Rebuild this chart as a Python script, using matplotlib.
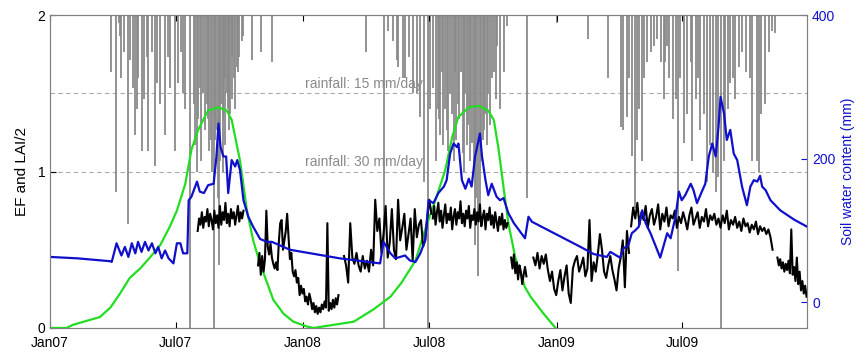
import numpy as np
import pandas as pd
import matplotlib
matplotlib.use('Agg')
import matplotlib.pyplot as plt
import matplotlib.dates as mdates

plt.rcParams['font.family'] = ['Liberation Sans', 'DejaVu Sans']

# days counted from 1 Jan 2007
t0 = pd.Timestamp('2007-01-01')

# soil water content (mm), right axis
swc_day = [0, 40, 87, 89, 96, 103, 108, 113, 118, 123, 127, 132, 137, 142, 147, 152, 156, 161, 166, 171,
           178, 183, 188, 192, 198, 200, 204, 212, 216, 222, 228, 236, 240, 243, 246, 250, 254, 257, 262, 267,
           270, 274, 279, 286, 293, 303, 313, 320, 346, 418, 476, 481, 491, 498, 505, 512, 519, 527, 534, 541,
           546, 553, 560, 568, 572, 577, 582, 587, 589, 594, 599, 604, 608, 613, 620, 623, 628, 632, 637, 644,
           649, 654, 661, 669, 685, 690, 695, 765, 784, 803, 808, 822, 827, 834, 839, 844, 849, 854, 859, 866,
           880, 885, 890, 895, 902, 907, 911, 916, 924, 928, 933, 940, 945, 950, 955, 960, 964, 967, 972, 976,
           981, 986, 991, 998, 1005, 1010, 1015, 1020, 1024, 1027, 1032, 1039, 1053, 1073, 1092]
swc_mm = [63, 61, 57, 56, 82, 65, 77, 63, 82, 68, 84, 70, 84, 72, 82, 68, 77, 61, 72, 61,
          54, 82, 82, 68, 68, 142, 147, 168, 154, 152, 163, 165, 203, 249, 216, 203, 203, 152, 198, 189,
          198, 184, 142, 119, 105, 88, 84, 84, 73, 61, 54, 84, 68, 61, 63, 65, 58, 56, 68, 86,
          142, 138, 152, 161, 170, 207, 221, 216, 221, 170, 158, 172, 161, 203, 235, 203, 170, 149, 165, 147,
          142, 145, 124, 110, 89, 119, 112, 77, 67, 63, 70, 62, 75, 79, 96, 100, 105, 128, 110, 96,
          62, 79, 96, 89, 119, 154, 142, 149, 165, 156, 138, 154, 165, 203, 221, 203, 244, 286, 263, 226,
          240, 207, 198, 161, 135, 161, 170, 168, 176, 161, 156, 142, 128, 115, 105]

# LAI/2, left axis
lai_day = [0, 24, 33, 72, 87, 101, 115, 130, 144, 159, 173, 183, 195, 204, 214, 228, 243, 255, 262, 274,
           284, 293, 303, 313, 322, 337, 351, 370, 380, 409, 438, 467, 491, 507, 527, 541, 556, 570, 580, 589,
           604, 618, 632, 640, 647, 654, 661, 671, 685, 693, 712, 729]
lai_half = [0, 0, 0.02, 0.07, 0.13, 0.22, 0.32, 0.38, 0.45, 0.53, 0.65, 0.75, 0.92, 1.14, 1.27, 1.39, 1.41, 1.39, 1.33, 1.07,
            0.75, 0.56, 0.41, 0.29, 0.18, 0.09, 0.04, 0.01, 0, 0.02, 0.04, 0.12, 0.2, 0.29, 0.43, 0.63, 0.82, 1.01, 1.22, 1.35,
            1.41, 1.42, 1.39, 1.33, 1.14, 0.9, 0.67, 0.45, 0.26, 0.2, 0.09, 0]

# evaporative fraction, in pieces (start day, step in days, values)
ef_a = (213, 2, [0.62, 0.70, 0.66, 0.74, 0.64, 0.71, 0.68, 0.76, 0.65, 0.73, 0.69, 0.63, 0.75, 0.67, 0.72, 0.64, 0.78,
                 0.66, 0.74, 0.69, 0.80, 0.67, 0.73, 0.65, 0.76, 0.70, 0.74, 0.66, 0.72, 0.78, 0.68, 0.74, 0.70, 0.75])
ef_b = (300, 2, [0.40, 0.48, 0.34, 0.46, 0.36, 0.44, 0.75, 0.52, 0.47, 0.54, 0.45, 0.41, 0.38, 0.42, 0.37, 0.55, 0.67,
                 0.69, 0.50, 0.56, 0.62, 0.73, 0.58, 0.44, 0.48, 0.36, 0.33, 0.37, 0.29, 0.32, 0.21, 0.27, 0.22, 0.25,
                 0.17, 0.20, 0.15, 0.22, 0.18, 0.12, 0.16, 0.10, 0.14, 0.09, 0.13, 0.10, 0.15, 0.12, 0.17, 0.13, 0.67,
                 0.11, 0.16, 0.12, 0.18, 0.13, 0.19, 0.15, 0.21])
ef_c1 = (424, 3, [0.46, 0.40, 0.29, 0.67, 0.45, 0.41, 0.48, 0.40, 0.36, 0.46, 0.38, 0.43, 0.36, 0.50, 0.40, 0.82, 0.62,
                  0.70, 0.48, 0.60, 0.78, 0.45, 0.55, 0.76, 0.50, 0.44, 0.82, 0.56, 0.64, 0.73, 0.50, 0.60, 0.70, 0.43,
                  0.76, 0.58, 0.66, 0.69, 0.52, 0.56, 0.70, 0.82, 0.73])
ef_c2 = (552, 2, [0.70, 0.78, 0.66, 0.74, 0.80, 0.68, 0.75, 0.64, 0.72, 0.79, 0.67, 0.73, 0.69, 0.77, 0.63, 0.71, 0.76,
                  0.66, 0.74, 0.70, 0.81, 0.67, 0.73, 0.65, 0.75, 0.70, 0.78, 0.64, 0.72, 0.69, 0.76, 0.66, 0.74, 0.68,
                  0.79, 0.65, 0.71, 0.75, 0.63, 0.73, 0.69, 0.77, 0.66, 0.72, 0.64, 0.74, 0.68, 0.62, 0.71, 0.66, 0.73,
                  0.63, 0.69, 0.64, 0.67])
ef_d = (665, 2, [0.45, 0.38, 0.47, 0.35, 0.42, 0.31, 0.40, 0.36, 0.28, 0.34, 0.39, 0.33])
ef_e1 = (697, 3, [0.45, 0.40, 0.48, 0.38, 0.46, 0.41, 0.47, 0.37, 0.30, 0.36, 0.25, 0.21, 0.30, 0.37, 0.24, 0.33, 0.40,
                  0.22, 0.16, 0.38, 0.43, 0.46, 0.36, 0.40, 0.45, 0.33, 0.38, 0.69, 0.30, 0.42, 0.36, 0.47, 0.60, 0.50,
                  0.36, 0.32, 0.40, 0.46, 0.37, 0.31, 0.24, 0.38, 0.45, 0.56, 0.26, 0.62, 0.48])
ef_e2 = (838, 3, [0.65, 0.77, 0.70, 0.80, 0.66, 0.74, 0.69, 0.78, 0.64, 0.72, 0.76, 0.66, 0.71, 0.79, 0.63, 0.73, 0.68,
                  0.77, 0.65, 0.72, 0.70, 0.75, 0.64, 0.71, 0.67, 0.74, 0.69, 0.63, 0.72, 0.77, 0.66, 0.70, 0.74, 0.64,
                  0.71, 0.68, 0.76, 0.65, 0.72, 0.69, 0.73, 0.66, 0.70, 0.64, 0.72, 0.67, 0.75, 0.63, 0.69, 0.66, 0.71,
                  0.64, 0.68, 0.62, 0.70, 0.65, 0.67, 0.61, 0.66, 0.63, 0.68, 0.60, 0.65, 0.62, 0.64, 0.60, 0.63, 0.58,
                  0.50])
ef_f = (1049, 2, [0.45, 0.40, 0.44, 0.38, 0.42, 0.36, 0.41, 0.37, 0.43, 0.35, 0.63, 0.34, 0.39, 0.30, 0.45, 0.28, 0.36,
                  0.24, 0.30, 0.22, 0.27, 0.20])
ef_pieces = [ef_a, ef_b, ef_c1, ef_c2, ef_d, ef_e1, ef_e2, ef_f]

# daily rainfall (mm/day)
rain_day = [88, 95, 99, 101, 102, 106, 112, 115, 119, 122, 125, 127, 132, 136, 140, 142, 147, 152, 155, 159,
            166, 170, 173, 180, 185, 189, 192, 195, 202, 207, 209, 212, 214, 216, 218, 221, 223, 226, 228, 230,
            232, 234, 237, 238, 240, 242, 243, 245, 247, 249, 250, 252, 253, 255, 256, 258, 260, 262, 263, 265,
            267, 269, 271, 273, 277, 279, 292, 305, 320,
            455, 481, 488, 495, 500, 502, 509, 512, 517, 524, 529, 534, 539, 545, 548, 552, 556, 559, 561, 563,
            566, 567, 570, 572, 574, 577, 580, 582, 584, 586, 588, 590, 592, 595, 597, 599, 601, 603, 605, 606,
            609, 611, 613, 615, 617, 620, 622, 624, 626, 628, 630, 632, 635, 637, 640, 643, 645, 649, 654, 659,
            688,
            731, 776, 805, 823, 826, 832, 835, 839, 843, 846, 849, 853, 856, 861, 867, 871, 876, 881, 885, 887,
            890, 892, 899, 903, 906, 909, 914, 919, 924, 926, 931, 935, 938, 943, 948, 952, 956, 960, 963, 968,
            972, 974, 978, 981, 985, 988, 993, 998, 1003, 1010, 1013, 1020, 1022, 1025, 1031, 1037, 1041, 1046]
rain_mm = [11, 34, 1.5, 4, 12, 7, 40, 8.6, 14, 23, 18, 12, 26, 16, 8, 26, 7, 29, 13, 17,
           23, 8, 14, 26, 13, 7, 15, 18, 60, 17, 25, 30, 20, 14, 28, 15, 22, 17, 20, 26,
           24, 30, 60, 24, 22, 35, 48, 28, 17, 30, 20, 25, 12, 15, 18, 22, 19, 16, 8, 12,
           18, 10, 11, 8, 5, 4, 8.6, 7, 9,
           7, 60, 3, 5, 8.6, 10, 12, 12, 8, 15, 15, 19.5, 32, 60, 18, 14, 28, 18, 20, 23,
           11, 25, 18, 22, 26, 15, 19, 28, 11, 24, 17, 20, 11, 26.5, 30, 15, 25, 21, 28, 18,
           24.5, 30, 44, 35, 50, 37, 28, 24, 22, 19, 25, 15, 21, 12, 11, 16, 6, 18, 11, 2,
           35,
           1.5, 4.5, 12, 21.5, 22, 19.5, 12, 27, 37, 24, 18, 28, 12, 9, 7, 6, 4.5, 9, 16, 9,
           6, 12, 20, 16, 49, 12, 24.5, 19, 9, 28, 16, 12, 22, 19, 32, 25, 30, 34, 31, 60,
           28, 22, 18, 13, 12, 16, 10, 7, 11, 12, 28, 28, 30, 19, 17, 7, 3, 3.5]

rain_levels = [15, 30]


def to_dates(days):
    return t0 + pd.to_timedelta(np.asarray(days, dtype=float), unit='D')


fig = plt.figure(figsize=(8.68, 3.6), dpi=100)
ax = fig.add_axes([0.0576, 0.089, 0.8724, 0.869])
ax2 = ax.twinx()

grey = '#8a8a8a'
# rainfall hanging from the top: 30 mm/day = 1 unit on the left axis
r = np.array(rain_mm)
ax.vlines(to_dates(rain_day), 2 - r / 30.0, 2, color=grey, lw=1.3, zorder=1)

for lev in rain_levels:
    yv = 2 - lev / 30.0
    ax.axhline(yv, color='#aaaaaa', ls=(0, (4, 3)), lw=0.8, zorder=0)
    ax.text(to_dates([368])[0], yv + 0.015, 'rainfall: %d mm/day' % lev, color='#8a8a8a',
            fontsize=10, va='bottom', ha='left', zorder=2)

ax.plot(to_dates(lai_day), lai_half, color='#22dd22', lw=1.6, zorder=3)

for start, step, vals in ef_pieces:
    d = start + step * np.arange(len(vals))
    ax.plot(to_dates(d), vals, color='black', lw=1.5, zorder=4)

ax2.plot(to_dates(swc_day), swc_mm, color='#1010cc', lw=1.6)

ax.set_xlim(to_dates([0])[0], to_dates([1092])[0])
ax.set_ylim(0, 2)
ax.set_yticks([0, 1, 2])
ax.set_ylabel('EF and LAI/2', fontsize=11, labelpad=6)
ax2.set_ylim(-36, 400)
ax2.set_yticks([0, 200, 400])
ax2.set_ylabel('Soil water content (mm)', color='#1010cc', fontsize=10)
ax2.tick_params(axis='y', colors='#1010cc', labelsize=10, direction='in', length=4)

ax.xaxis.set_major_locator(mdates.MonthLocator(bymonth=[1, 7]))
ax.xaxis.set_major_formatter(mdates.DateFormatter('%b%y'))
ax.tick_params(axis='x', direction='in', top=True, labelsize=10, length=4, pad=6)
ax.tick_params(axis='y', direction='in', labelsize=10, length=4)

for a in (ax, ax2):
    for s in a.spines.values():
        s.set_color('#808080')

fig.savefig('out.png', dpi=100)
